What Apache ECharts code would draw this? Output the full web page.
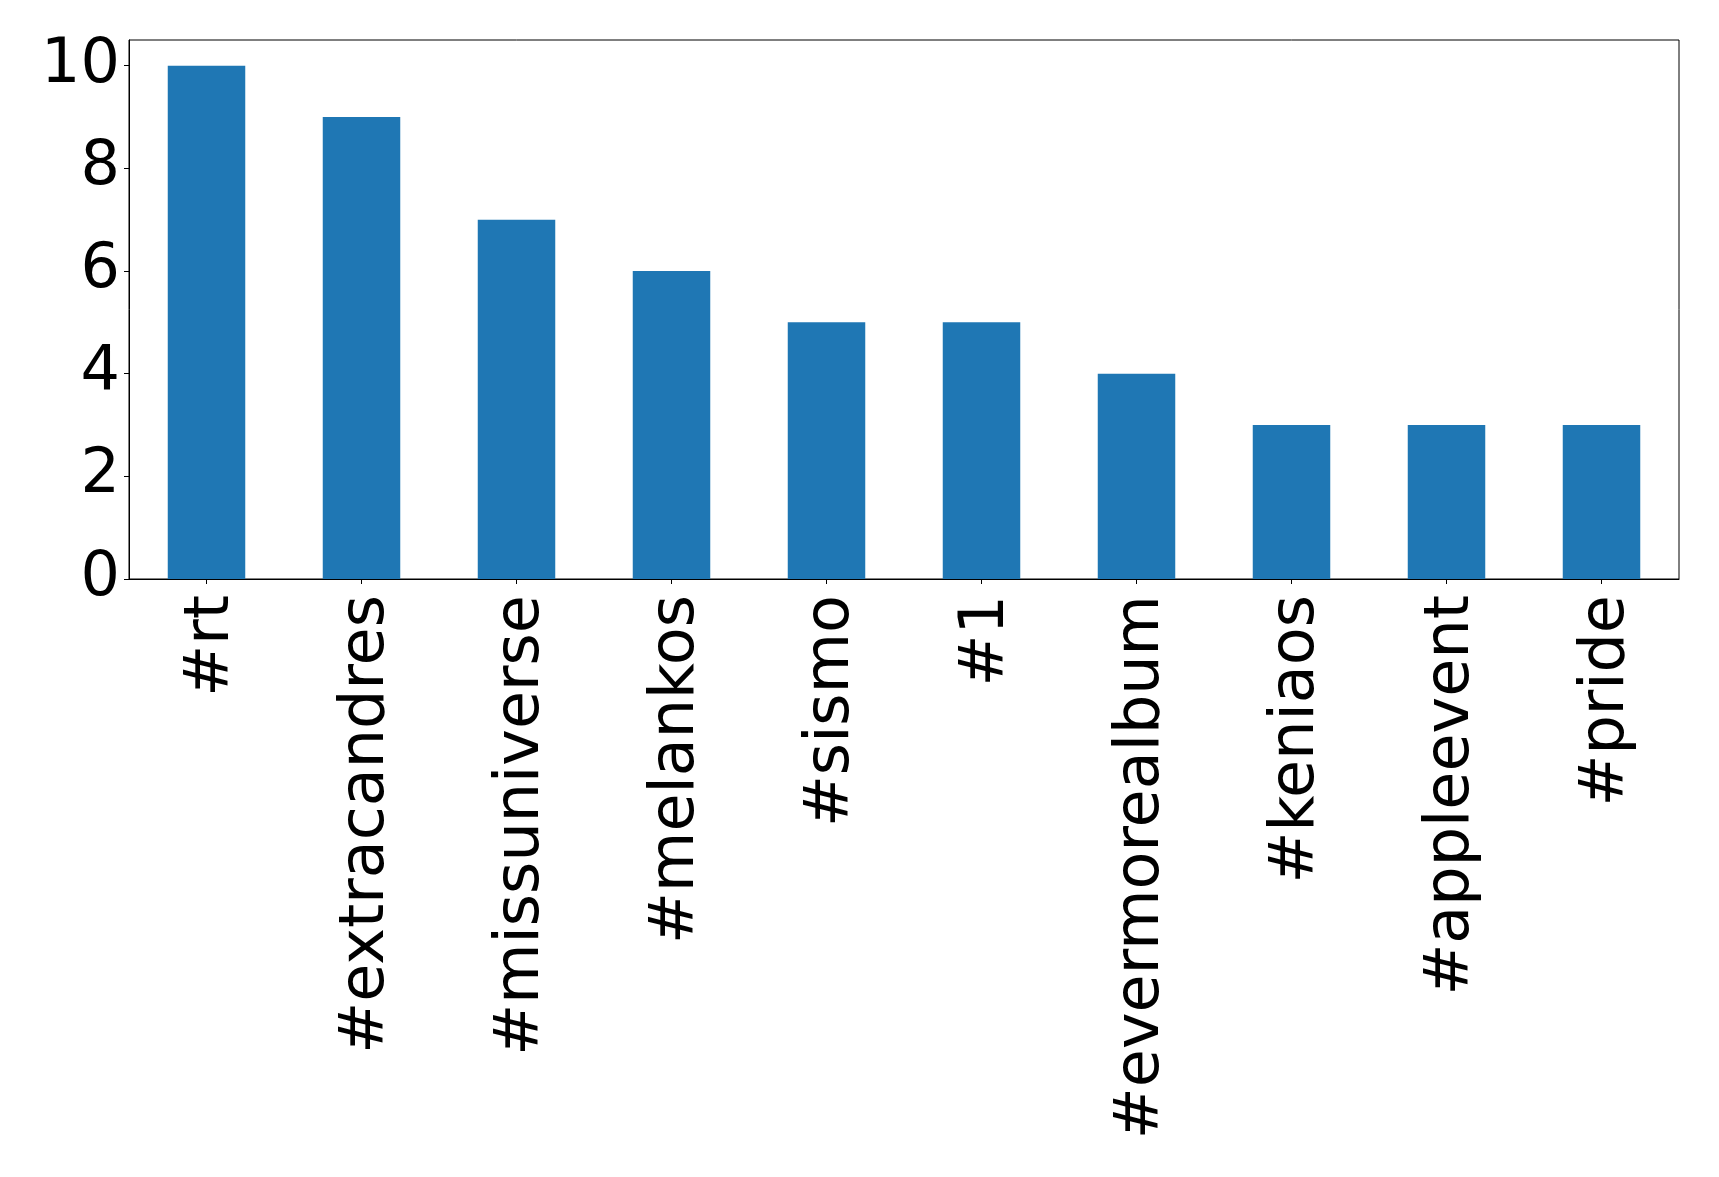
<!DOCTYPE html>
<html>
<head>
<meta charset="utf-8">
<script src="https://cdn.jsdelivr.net/npm/echarts@6/dist/echarts.min.js"></script>
<style>
html,body{margin:0;padding:0;background:#fff;}
#chart{width:1719px;height:1177px;}
</style>
</head>
<body>
<div id="chart"></div>
<script>
const categories = ['#rt','#extracandres','#missuniverse','#melankos','#sismo','#1','#evermorealbum','#keniaos','#appleevent','#pride'];
const counts = [10, 9, 7, 6, 5, 5, 4, 3, 3, 3];
const yTicks = [0, 2, 4, 6, 8, 10];

const chart = echarts.init(document.getElementById('chart'), null, {renderer: 'canvas'});
const font = 'DejaVu Sans';
chart.setOption({
  animation: false,
  backgroundColor: '#ffffff',
  grid: {
    left: 129, right: 40, top: 40, bottom: 598,
    show: true, borderColor: '#000', borderWidth: 1, backgroundColor: 'transparent'
  },
  xAxis: {
    type: 'category',
    data: categories,
    boundaryGap: true,
    axisLine: {show: true, lineStyle: {color: '#000', width: 1}},
    axisTick: {show: true, alignWithLabel: true, length: 5, lineStyle: {color: '#000', width: 1}},
    axisLabel: {rotate: 90, margin: 16, verticalAlign: 'top', lineHeight: 10, color: '#000', fontFamily: font, fontSize: 62, interval: 0}
  },
  yAxis: {
    type: 'value',
    min: 0, max: 10.5,
    splitLine: {show: false},
    axisLine: {show: true, lineStyle: {color: '#000', width: 1}},
    axisTick: {show: true, length: 5, lineStyle: {color: '#000', width: 1}, customValues: yTicks},
    axisLabel: {margin: 9, color: '#000', fontFamily: font, fontSize: 62, customValues: yTicks}
  },
  series: [{
    type: 'bar',
    data: counts,
    barWidth: '50%',
    itemStyle: {color: '#1f77b4'}
  }]
});
</script>
</body>
</html>
